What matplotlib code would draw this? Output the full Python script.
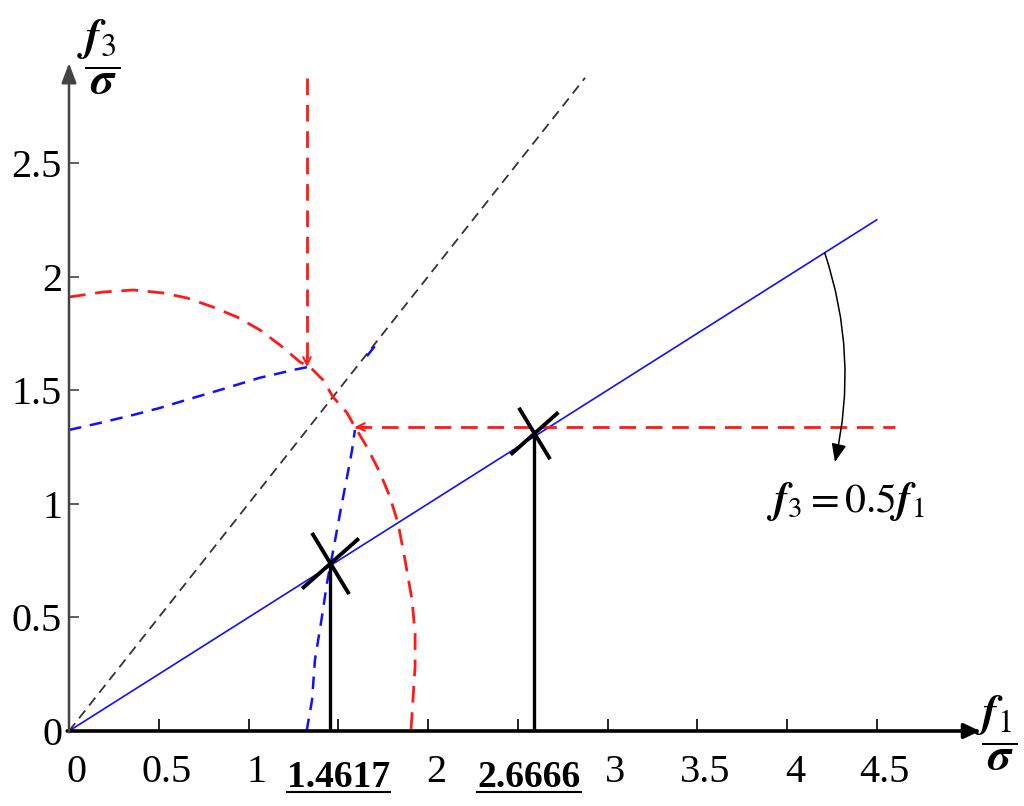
import matplotlib
matplotlib.use('Agg')
import matplotlib.pyplot as plt
from matplotlib.path import Path
from matplotlib.markers import MarkerStyle
from matplotlib.lines import Line2D
from matplotlib.transforms import ScaledTranslation

plt.rcParams['font.family'] = ['Liberation Serif', 'DejaVu Serif']
plt.rcParams['mathtext.fontset'] = 'stix'

# ---------------- data ----------------
x_ticks = [0, 0.5, 1, 1.5, 2, 2.5, 3, 3.5, 4, 4.5]
x_tick_labels = ['0', '0.5', '1', '', '2', '', '3', '3.5', '4', '4.5']
y_ticks = [0, 0.5, 1, 1.5, 2, 2.5]
y_tick_labels = ['0', '0.5', '1', '1.5', '2', '2.5']

red_curve_x = [0.0, 0.189, 0.357, 0.524, 0.657, 0.802, 0.936, 1.064, 1.175, 1.287,
               1.343, 1.415, 1.471, 1.549, 1.593, 1.660, 1.733, 1.788, 1.833, 1.872,
               1.911, 1.928, 1.928, 1.916, 1.905]
red_curve_y = [1.910, 1.932, 1.941, 1.928, 1.906, 1.866, 1.822, 1.765, 1.699, 1.624,
               1.602, 1.545, 1.470, 1.400, 1.338, 1.250, 1.136, 1.030, 0.915, 0.753,
               0.577, 0.431, 0.282, 0.136, 0.0]

blue_upper_x = [0.0, 0.173, 0.357, 0.507, 0.657, 0.841, 0.969, 1.064, 1.175, 1.248, 1.331]
blue_upper_y = [1.325, 1.356, 1.391, 1.422, 1.458, 1.501, 1.532, 1.555, 1.575, 1.589, 1.602]

blue_lower_x = [1.324, 1.354, 1.370, 1.409, 1.437, 1.465, 1.493, 1.515, 1.549, 1.577, 1.593]
blue_lower_y = [0.0, 0.136, 0.312, 0.502, 0.651, 0.766, 0.885, 0.980, 1.118, 1.237, 1.325]

blue_short_x = [1.66, 1.72]
blue_short_y = [1.65, 1.71]

diag_x = [0.0, 2.875]
diag_y = [0.0, 2.875]

ratio_x = [0.0, 4.5]
ratio = 0.5
ratio_y = [ratio * v for v in ratio_x]

red_vert_x = [1.326, 1.326]
red_vert_y = [2.874, 1.602]
red_horiz_x = [1.593, 4.60]
red_horiz_y = [1.338, 1.338]

solution_x = [1.455, 2.59]
solution_y = [0.74, 1.31]
solution_labels = ['1.4617', '2.6666']
solution_label_x = [1.50, 2.563]
marker_sizes = [44, 37]

equation = r'$\mathbfit{f}_{3} = 0.5\mathbfit{f}_{1}$'
equation_arrow_start = (4.21, 2.105)
equation_arrow_end = (4.267, 1.184)

# ---------------- figure ----------------
W, H = 1024, 806
fig = plt.figure(figsize=(W / 100, H / 100), dpi=100)
fig.patch.set_facecolor('white')
px_x, px_y = 179.5, 227.2
ax_left, ax_bottom, ax_w, ax_h = 69, 75, 915, 671
ax = fig.add_axes([ax_left / W, ax_bottom / H, ax_w / W, ax_h / H])
ax.set_xlim(0, ax_w / px_x)
ax.set_ylim(0, ax_h / px_y)
for s in ax.spines.values():
    s.set_visible(False)
ax.patch.set_alpha(0)

RED = '#ff1a1a'
BLUE = '#1010ff'

# black diagonal
ax.plot(diag_x, diag_y, color='#333333', lw=1.3, dashes=(5.5, 3.5), zorder=2)
# blue solid ratio line
ax.plot(ratio_x, ratio_y, color=BLUE, lw=1.2, zorder=3)
# red dashed curve
ax.plot(red_curve_x, red_curve_y, color=RED, lw=2.0, dashes=(6, 3.5), zorder=3)
# blue dashed curves
ax.plot(blue_upper_x, blue_upper_y, color=BLUE, lw=1.8, dashes=(5, 3.5), zorder=3)
ax.plot(blue_lower_x, blue_lower_y, color=BLUE, lw=1.8, dashes=(5, 3.5), zorder=3)
ax.plot(blue_short_x, blue_short_y, color=BLUE, lw=1.8, dashes=(5, 3.5), zorder=3)
# red dashed straight lines
ax.plot(red_vert_x, red_vert_y, color=RED, lw=2.0, dashes=(6, 3.5), zorder=3)
ax.plot(red_horiz_x, red_horiz_y, color=RED, lw=2.0, dashes=(6, 3.5), zorder=3)
# small arrowheads at the red line ends
ax.annotate('', xy=(red_vert_x[1], red_vert_y[1]),
            xytext=(red_vert_x[1], red_vert_y[1] + 0.05),
            arrowprops=dict(arrowstyle='->,head_length=0.6,head_width=0.3', color=RED,
                            lw=1.5, shrinkA=0, shrinkB=0, mutation_scale=9), zorder=4)
ax.annotate('', xy=(red_horiz_x[0], red_horiz_y[0]),
            xytext=(red_horiz_x[0] + 0.07, red_horiz_y[0]),
            arrowprops=dict(arrowstyle='->,head_length=0.6,head_width=0.3', color=RED,
                            lw=1.5, shrinkA=0, shrinkB=0, mutation_scale=9), zorder=4)

# solution vertical lines and X markers
xpath = Path([(-17, 28), (17, -28), (-26, -23), (26, 23)],
             [Path.MOVETO, Path.LINETO, Path.MOVETO, Path.LINETO])
for sx, sy, ms in zip(solution_x, solution_y, marker_sizes):
    ax.plot([sx, sx], [0, sy], color='black', lw=2.4, zorder=5, solid_capstyle='butt')
    ax.plot([sx], [sy], marker=MarkerStyle(xpath), ms=ms, mew=2.8, mec='black',
            mfc='none', zorder=6, linestyle='none')

# axes arrows
ax.annotate('', xy=(5.075, 0), xytext=(-0.01, 0),
            arrowprops=dict(arrowstyle='-|>,head_length=0.95,head_width=0.45', color='black',
                            lw=2.6, shrinkA=0, shrinkB=0, mutation_scale=10),
            annotation_clip=False, zorder=7)
ax.annotate('', xy=(0, 2.94), xytext=(0, -0.005),
            arrowprops=dict(arrowstyle='-|>,head_length=1.2,head_width=0.45', color='#444444',
                            lw=1.8, shrinkA=0, shrinkB=0, mutation_scale=10),
            annotation_clip=False, zorder=7)

# ticks
ax.set_xticks(x_ticks)
ax.set_xticklabels(x_tick_labels)
ax.set_yticks(y_ticks)
ax.set_yticklabels(y_tick_labels)
ax.tick_params(axis='x', direction='in', length=9, width=1.2, color='black',
               labelsize=29, pad=16.5)
ax.tick_params(axis='y', direction='in', length=7, width=1.2, color='#444444',
               labelsize=29, pad=5)
for lab in ax.get_xticklabels():
    lab.set_transform(lab.get_transform() + ScaledTranslation(8 / 100, 0, fig.dpi_scale_trans))

# bold underlined solution labels
base_y = -0.246
sol_texts = []
for lx, lab in zip(solution_label_x, solution_labels):
    t = ax.text(lx, base_y, lab, ha='center', va='baseline', fontsize=27,
                fontweight='bold', clip_on=False)
    sol_texts.append(t)

# equation and curved arrow
ax.text(4.323, 0.964, equation, ha='center', va='baseline', fontsize=30)
ax.annotate('', xy=equation_arrow_end, xytext=equation_arrow_start,
            arrowprops=dict(arrowstyle='-|>,head_length=1.1,head_width=0.45', color='black',
                            lw=1.1, shrinkA=0, shrinkB=0, mutation_scale=10,
                            connectionstyle='arc3,rad=-0.14'))

# axis titles
fig.text(99 / W, 1 - 57 / H, r'$\dfrac{\mathbfit{f}_{3}}{\mathbfit{\sigma}}$',
         ha='center', va='center', fontsize=33)
fig.text(996 / W, 1 - 733 / H, r'$\dfrac{\mathbfit{f}_{1}}{\mathbfit{\sigma}}$',
         ha='center', va='center', fontsize=33)

# underlines
fig.canvas.draw()
renderer = fig.canvas.get_renderer()
for t in sol_texts:
    bb = t.get_window_extent(renderer)
    by = ax.transData.transform((0, base_y))[1] - 5
    fig.add_artist(Line2D([bb.x0 / W, bb.x1 / W], [by / H, by / H],
                          transform=fig.transFigure, color='black', lw=1.5))

fig.savefig('out.png', dpi=100, facecolor='white')
